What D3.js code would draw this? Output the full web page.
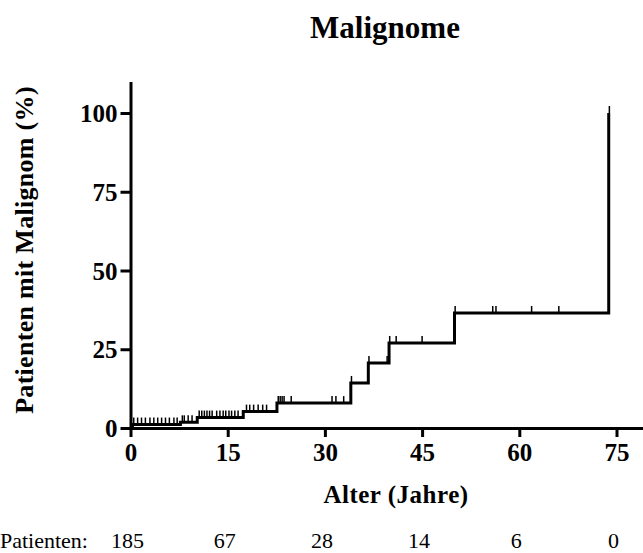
<!DOCTYPE html>
<html>
<head>
<meta charset="utf-8">
<script src="https://cdn.jsdelivr.net/npm/d3@7"></script>
<style>
  body { margin: 0; background: #fff; }
  text { font-family: "Liberation Serif", "Times New Roman", serif; }
</style>
</head>
<body>
<div id="chart"></div>
<script>
// event ages (years) and cumulative percentage after each event
const eventAges = [0, 0.3, 7.7, 10.3, 17.4, 22.6, 34.0, 36.7, 39.9, 50.0, 73.8];
const eventPct = [0, 1.1, 1.8, 3.3, 5.2, 7.9, 14.3, 20.6, 27.0, 36.5, 100];

// censored observations (years)
const censorAges = [
  0.5, 1.1, 1.7, 2.3, 3.0, 3.6, 4.2, 4.8, 5.4, 6.0, 6.7, 7.2,
  8.0, 8.3, 8.9, 9.5,
  10.6, 11.0, 11.4, 11.8, 12.2, 12.6, 13.3, 13.8, 14.3, 14.7, 15.2, 15.6, 16.1, 16.6,
  17.9, 18.4, 19.0, 19.7, 20.4, 21.0,
  22.8, 23.1, 23.4, 23.7, 24.8, 31.1, 31.7, 32.9,
  34.1, 36.8, 39.6,
  40.0, 41.0, 45.0,
  50.1, 55.9, 56.4, 61.9, 66.1,
  73.9
];

const xTicks = [0, 15, 30, 45, 60, 75];
const yTicks = [0, 25, 50, 75, 100];
const atRiskAges = [0, 15, 30, 45, 60, 75];
const atRiskCounts = [185, 67, 28, 14, 6, 0];

const W = 643, H = 553;
const svg = d3.select("#chart").append("svg")
  .attr("width", W).attr("height", H);

const x = d3.scaleLinear().domain([0, 80]).range([130.5, 130.5 + 6.48 * 80]);
const y = d3.scaleLinear().domain([0, 110]).range([428, 428 - 3.15 * 110]);

// title
svg.append("text")
  .attr("x", 385).attr("y", 38)
  .attr("text-anchor", "middle")
  .style("font-size", "31px").style("font-weight", "bold")
  .text("Malignome");

// axes
const xAxis = d3.axisBottom(x).tickValues(xTicks).tickSize(9).tickSizeOuter(0).tickPadding(6);
const yAxis = d3.axisLeft(y).tickValues(yTicks).tickSize(10).tickSizeOuter(0).tickPadding(3);

const gx = svg.append("g").attr("transform", `translate(0,${y(0)})`).call(xAxis);
const gy = svg.append("g").attr("transform", `translate(${x(0)},0)`).call(yAxis);

[gx, gy].forEach(g => {
  g.select(".domain").attr("stroke-width", 3).attr("stroke", "#000");
  g.selectAll(".tick line").attr("stroke-width", 3).attr("stroke", "#000");
  g.selectAll(".tick text")
    .attr("fill", "#000")
    .style("font-family", "Liberation Serif, serif")
    .style("font-size", "25px")
    .style("font-weight", "bold");
});
gy.selectAll(".tick text").attr("dy", "0.34em");

// axis titles
svg.append("text")
  .attr("x", 396).attr("y", 503)
  .attr("text-anchor", "middle")
  .style("font-size", "25px").style("font-weight", "bold")
  .style("letter-spacing", "0.5px")
  .text("Alter (Jahre)");

svg.append("text")
  .attr("transform", `translate(33,${250}) rotate(-90)`)
  .attr("text-anchor", "middle")
  .style("font-size", "26px").style("font-weight", "bold")
  .style("letter-spacing", "0.3px")
  .text("Patienten mit Malignom (%)");

// step curve
const pts = eventAges.map((a, i) => [a, eventPct[i]]);
const line = d3.line()
  .x(d => x(d[0]))
  .y(d => y(d[1]))
  .curve(d3.curveStepAfter);

svg.append("path")
  .datum(pts)
  .attr("fill", "none")
  .attr("stroke", "#000")
  .attr("stroke-width", 3)
  .attr("d", line);

function levelAt(age) {
  let v = 0;
  eventAges.forEach((a, i) => { if (a <= age) v = eventPct[i]; });
  return v;
}

svg.append("g").selectAll("line")
  .data(censorAges)
  .join("line")
  .attr("x1", d => x(d)).attr("x2", d => x(d))
  .attr("y1", d => y(levelAt(d)))
  .attr("y2", d => y(levelAt(d)) - 7)
  .attr("stroke", "#000")
  .attr("stroke-width", 1.5);

// number at risk row
svg.append("text")
  .attr("x", 0).attr("y", 548)
  .style("font-size", "22px")
  .text("Patienten:");

svg.append("g").selectAll("text")
  .data(atRiskAges)
  .join("text")
  .attr("x", d => x(d) - 3)
  .attr("y", 548)
  .attr("text-anchor", "middle")
  .style("font-size", "22px")
  .text((d, i) => atRiskCounts[i]);
</script>
</body>
</html>
